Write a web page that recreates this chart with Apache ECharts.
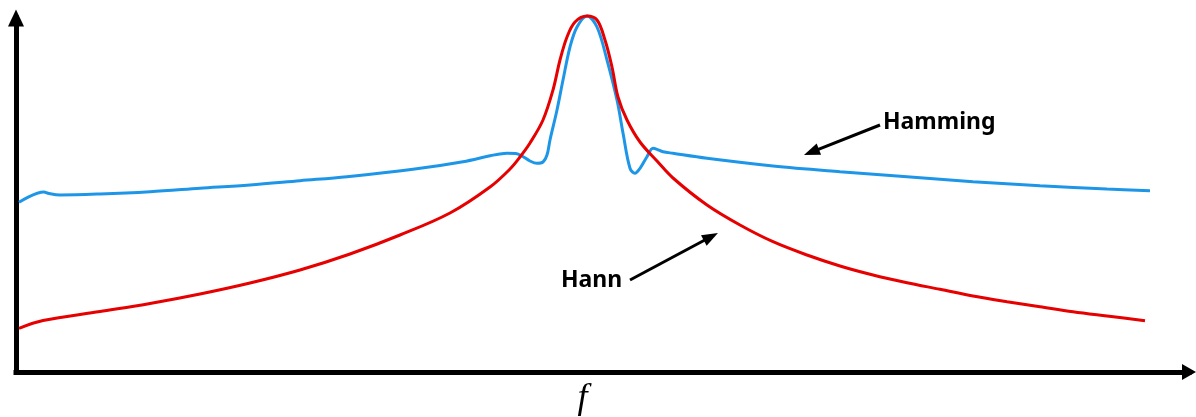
<!DOCTYPE html>
<html>
<head>
<meta charset="utf-8">
<title>Hann vs Hamming spectral leakage</title>
<script src="https://cdn.jsdelivr.net/npm/echarts@6/dist/echarts.min.js"></script>
<style>
  html, body { margin: 0; padding: 0; background: #fff; }
  #chart { width: 1196px; height: 417px; }
</style>
</head>
<body>
<div id="chart"></div>
<script>
// Magnitude response of the two windows around a single tone (arbitrary units).
// Each pair is [frequency, magnitude].
const hammingPoints = [
  [3, 169.7], [28, 180], [32, 178.7], [44, 177], [84, 178], [134, 180.3],
  [184, 183.7], [234, 187], [284, 191.3], [331, 195.3], [397, 202.7],
  [447, 210.3], [474, 216.3], [481, 217.5], [491, 218.8], [500, 218.5],
  [506, 216], [514, 211], [521, 208.7], [527, 210], [531, 217],
  [534, 232], [541, 262], [547, 292], [554, 325], [561, 345], [571, 356],
  [581, 345], [591, 312], [601, 272], [607, 239], [614, 203.7],
  [619, 198.7], [624, 203.7], [631, 215.3], [637, 223.7], [641, 222.7],
  [647, 220.3], [657, 218.7], [691, 213.7], [757, 206], [824, 200.3],
  [891, 195.3], [957, 190.3], [1024, 186.3], [1091, 183], [1134, 181.3]
];

const hannPoints = [
  [3, 43.7], [27, 51.5], [84, 60.5], [134, 68.5], [184, 78], [234, 89],
  [284, 102], [334, 118], [384, 137], [434, 159], [474, 185],
  [494, 203], [504, 215], [514, 229], [527, 252],
  [537, 282], [544, 312], [551, 335], [559, 350], [571, 356],
  [581, 352], [589, 332], [596, 305], [602, 275], [611, 252],
  [624, 230], [641, 211], [657, 194], [691, 167], [724, 147],
  [757, 130.3], [791, 117], [824, 106], [857, 97], [891, 89.3],
  [924, 82.7], [957, 76], [991, 70.3], [1024, 65.3], [1057, 60.3],
  [1091, 56], [1129, 51.3]
];

// Call-out arrows: [from, to] in chart coordinates.
const hammingArrow = [[864, 247], [795.4, 219.9]];
const hannArrow = [[614, 92], [694.9, 135.2]];

// Call-out labels anchored in chart coordinates.
const labels = [
  { text: 'Hamming', at: [867, 250] },
  { text: 'Hann', at: [545, 92] }
];

const axisLimits = { xMax: 1173, yMax: 354 };

const chart = echarts.init(document.getElementById('chart'), null, { renderer: 'canvas' });

const axisLineStyle = { color: '#000', width: 5, cap: 'square' };

function arrowMark(pair) {
  return {
    silent: true,
    symbol: ['none', 'triangle'],
    symbolSize: [12, 16],
    label: { show: false },
    lineStyle: { color: '#000', width: 3, type: 'solid' },
    emphasis: { disabled: true },
    data: [[{ coord: pair[0] }, { coord: pair[1] }]]
  };
}

chart.setOption({
  animation: false,
  backgroundColor: '#fff',
  grid: { left: 16, right: 7, top: 18, bottom: 45, containLabel: false, outerBoundsMode: 'none' },
  xAxis: {
    type: 'value',
    min: 0,
    max: axisLimits.xMax,
    name: 'f',
    nameLocation: 'middle',
    nameGap: 9,
    nameTextStyle: {
      fontFamily: 'Liberation Serif',
      fontStyle: 'italic',
      fontSize: 36,
      color: '#000',
      padding: [0, 40, 0, 0]
    },
    axisLine: { show: true, lineStyle: axisLineStyle, symbol: ['none', 'triangle'], symbolSize: [16, 14] },
    axisTick: { show: false },
    axisLabel: { show: false },
    splitLine: { show: false }
  },
  yAxis: {
    type: 'value',
    min: 0,
    max: axisLimits.yMax,
    axisLine: { show: true, lineStyle: axisLineStyle, symbol: ['none', 'triangle'], symbolSize: [16, 17] },
    axisTick: { show: false },
    axisLabel: { show: false },
    splitLine: { show: false }
  },
  series: [
    {
      name: 'Hamming',
      type: 'line',
      data: hammingPoints,
      showSymbol: false,
      smooth: 0.35,
      clip: false,
      lineStyle: { color: '#1e96e8', width: 3 },
      itemStyle: { color: '#1e96e8' },
      markLine: arrowMark(hammingArrow),
      z: 2
    },
    {
      name: 'Hann',
      type: 'line',
      data: hannPoints,
      showSymbol: false,
      smooth: 0.35,
      clip: false,
      lineStyle: { color: '#e60000', width: 3 },
      itemStyle: { color: '#e60000' },
      markLine: arrowMark(hannArrow),
      z: 3
    }
  ]
});

// Place the call-out text next to its arrow.
chart.setOption({
  graphic: labels.map(function (l) {
    const p = chart.convertToPixel({ gridIndex: 0 }, l.at);
    return {
      type: 'text',
      x: p[0],
      y: p[1],
      style: {
        text: l.text,
        fill: '#000',
        font: 'bold 23px "Noto Sans"',
        verticalAlign: 'middle',
        align: 'left'
      },
      silent: true
    };
  })
});
</script>
</body>
</html>
